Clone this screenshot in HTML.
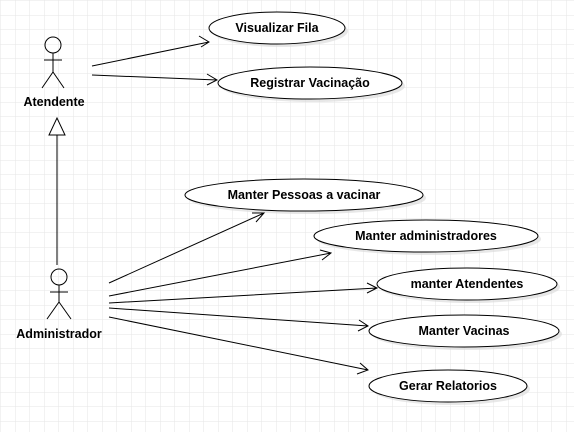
<!DOCTYPE html>
<html><head><meta charset="utf-8"><style>
html,body{margin:0;padding:0;background:#fff;}
svg{display:block;}
text{font-family:"Liberation Sans",Arial,sans-serif;font-size:12.5px;font-weight:bold;fill:#000;}
</style></head><body>
<svg width="574" height="432" viewBox="0 0 574 432" xmlns="http://www.w3.org/2000/svg">
<defs>
<pattern id="g" width="14.5" height="14.5" patternUnits="userSpaceOnUse" x="1" y="1">
<path d="M14.5 0V14.5M0 14.5H14.5" fill="none" stroke="#e6e6e6" stroke-width="1"/>
</pattern>
</defs>
<rect width="574" height="432" fill="url(#g)"/>
<g fill="#d8d8d8" opacity="0.6">
<ellipse cx="280" cy="31" rx="68" ry="16"/>
<ellipse cx="313" cy="86" rx="92" ry="16"/>
<ellipse cx="307" cy="198" rx="119" ry="16"/>
<ellipse cx="429" cy="239" rx="112" ry="16"/>
<ellipse cx="470" cy="287" rx="90" ry="16"/>
<ellipse cx="467" cy="334" rx="95" ry="16"/>
<ellipse cx="451" cy="389" rx="79" ry="16"/>
</g>
<g fill="#fff" stroke="#000" stroke-width="1">
<ellipse cx="277" cy="28" rx="68" ry="16"/>
<ellipse cx="310" cy="83" rx="92" ry="16"/>
<ellipse cx="304" cy="195" rx="119" ry="16"/>
<ellipse cx="426" cy="236" rx="112" ry="16"/>
<ellipse cx="467" cy="284" rx="90" ry="16"/>
<ellipse cx="464" cy="331" rx="95" ry="16"/>
<ellipse cx="448" cy="386" rx="79" ry="16"/>
</g>
<g text-anchor="middle">
<text x="277" y="32">Visualizar Fila</text>
<text x="310" y="87">Registrar Vacinação</text>
<text x="304" y="199">Manter Pessoas a vacinar</text>
<text x="426" y="240">Manter administradores</text>
<text x="467" y="288">manter Atendentes</text>
<text x="464" y="335">Manter Vacinas</text>
<text x="448" y="390">Gerar Relatorios</text>
<text x="54" y="106">Atendente</text>
<text x="59" y="338">Administrador</text>
</g>
<g fill="none" stroke="#000" stroke-width="1">
<circle cx="53" cy="45" r="8"/>
<path d="M53 53V72M44 60H62M53 72L42 88M53 72L64 88"/>
<circle cx="59" cy="277" r="8"/>
<path d="M59 285V302M50 292H68M59 302L47 319M59 302L71 319"/>
<path d="M57 265V135"/>
<path d="M57 118L49 135H65Z" fill="#fff"/>
<path d="M92 66L209 42M199 36L209 42L201 47"/>
<path d="M92 75L217 80M207 74L217 80L207 85"/>
<path d="M109 283L264 213M252 213L264 213L256 222"/>
<path d="M109 296L331 253M320 250L331 253L322 260"/>
<path d="M109 303L377 288M367 283L377 288L367 293"/>
<path d="M109 308L368 326M359 320L368 326L358 331"/>
<path d="M109 317L368 370M360 363L368 370L357 374"/>
</g>
</svg>
</body></html>
